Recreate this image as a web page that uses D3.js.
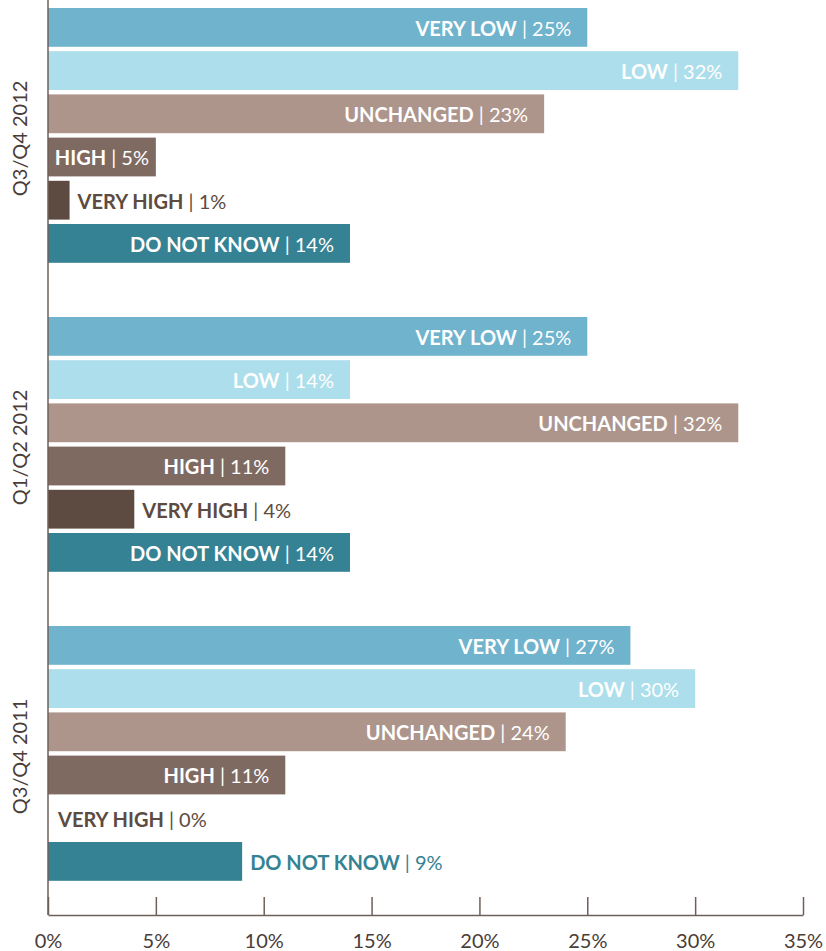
<!DOCTYPE html>
<html>
<head>
<meta charset="utf-8">
<script src="https://cdn.jsdelivr.net/npm/d3@7"></script>
<style>
  html, body { margin: 0; padding: 0; background: #fff; }
  svg { display: block; font-family: Lato, "Open Sans", sans-serif; }
</style>
</head>
<body>
<svg id="chart" width="826" height="951"></svg>
<script>
const groups = ["Q3/Q4 2012", "Q1/Q2 2012", "Q3/Q4 2011"];
const categories = ["VERY LOW", "LOW", "UNCHANGED", "HIGH", "VERY HIGH", "DO NOT KNOW"];
const valuesQ3Q4_2012 = [25, 32, 23, 5, 1, 14];
const valuesQ1Q2_2012 = [25, 14, 32, 11, 4, 14];
const valuesQ3Q4_2011 = [27, 30, 24, 11, 0, 9];
const tickValues = [0, 5, 10, 15, 20, 25, 30, 35];
const colors = ["#6fb3cd", "#acdeeb", "#ad958c", "#7f6a62", "#5d4b41", "#358294"];

const seriesByGroup = [valuesQ3Q4_2012, valuesQ1Q2_2012, valuesQ3Q4_2011];
const data = [];
groups.forEach((g, gi) => {
  categories.forEach((c, ci) => {
    data.push({ group: g, category: c, value: seriesByGroup[gi][ci], color: colors[ci] });
  });
});

const svg = d3.select("#chart");
const x = d3.scaleLinear().domain([0, 35]).range([48, 803]);
const yGroup = d3.scaleBand().domain(groups).range([8, 880.8]).paddingInner(0.1754).paddingOuter(0);
const yCat = d3.scaleBand().domain(categories).range([0, yGroup.bandwidth()]).paddingInner(0.102).paddingOuter(0);

const axisColor = "#6e5f5a";
const textDark = "#4a3c37";

// bars
const bars = svg.append("g");
bars.selectAll("rect").data(data).join("rect")
  .attr("x", x(0))
  .attr("y", d => yGroup(d.group) + yCat(d.category))
  .attr("width", d => x(d.value) - x(0))
  .attr("height", yCat.bandwidth())
  .attr("fill", d => d.color);

// labels
const labels = svg.append("g").style("font-size", "20px");
labels.selectAll("text").data(data).join("text")
  .attr("y", d => yGroup(d.group) + yCat(d.category) + yCat.bandwidth() / 2)
  .attr("dy", "0.42em")
  .each(function(d) {
    const t = d3.select(this);
    t.append("tspan").attr("font-weight", 700).text(d.category);
    t.append("tspan").attr("font-weight", 400).text(" | " + d.value + "%");
    const w = this.getComputedTextLength();
    const bw = x(d.value) - x(0);
    if (w + 32 <= bw) {
      t.attr("x", x(d.value) - 16).attr("text-anchor", "end").attr("fill", "#fff");
    } else if (w + 12 <= bw) {
      t.attr("x", x(0) + bw / 2).attr("text-anchor", "middle").attr("fill", "#fff");
    } else {
      t.attr("x", x(d.value) + (d.value === 0 ? 10 : 8)).attr("text-anchor", "start").attr("fill", d.color);
    }
  });

// x axis
const axisY = 915;
const xAxis = d3.axisBottom(x).tickValues(tickValues).tickSize(0).tickPadding(0).tickFormat(d => d + "%");
const ax = svg.append("g").attr("transform", `translate(0,${axisY})`).call(xAxis);
ax.select(".domain").attr("stroke", axisColor).attr("stroke-width", 1.5);
ax.selectAll(".tick line").attr("y2", -18).attr("stroke", axisColor).attr("stroke-width", 1.5);
ax.selectAll(".tick text")
  .attr("y", 25).attr("dy", "0.38em")
  .attr("fill", textDark)
  .style("font-family", "Lato, sans-serif")
  .style("font-size", "20px").style("font-weight", 400);

// y axis line
svg.append("line")
  .attr("x1", x(0)).attr("x2", x(0))
  .attr("y1", 0).attr("y2", axisY)
  .attr("stroke", axisColor).attr("stroke-width", 1.5);

// group labels
svg.append("g").selectAll("text").data(groups).join("text")
  .attr("transform", g => `translate(20,${yGroup(g) + yGroup.bandwidth() / 2 + 3}) rotate(-90)`)
  .attr("text-anchor", "middle")
  .attr("dy", "0.35em")
  .attr("fill", textDark)
  .style("font-size", "20px").style("font-weight", 400)
  .text(g => g);
</script>
</body>
</html>
